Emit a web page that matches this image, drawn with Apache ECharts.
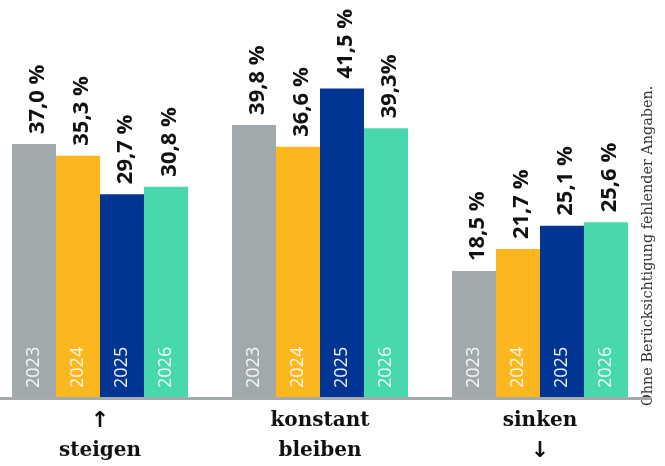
<!DOCTYPE html>
<html>
<head>
<meta charset="utf-8">
<script src="https://cdn.jsdelivr.net/npm/echarts@6/dist/echarts.min.js"></script>
<style>
  html, body { margin: 0; padding: 0; background: #ffffff; }
  #chart { width: 665px; height: 466px; }
</style>
</head>
<body>
<div id="chart"></div>
<script>
// Categories (x axis)
var categories = ['↑\nsteigen', 'konstant\nbleiben', 'sinken\n↓'];
// Years (series)
var years = ['2023', '2024', '2025', '2026'];
// Bar heights as drawn in the picture (per year, per category)
var values2023 = [37.0, 39.8, 18.5];
var values2024 = [35.3, 36.6, 21.7];
var values2025 = [29.7, 45.1, 25.1];
var values2026 = [30.8, 39.3, 25.6];
// Value labels as printed above the bars
var labels2023 = ['37,0 %', '39,8 %', '18,5 %'];
var labels2024 = ['35,3 %', '36,6 %', '21,7 %'];
var labels2025 = ['29,7 %', '41,5 %', '25,1 %'];
var labels2026 = ['30,8 %', '39,3%', '25,6 %'];
var note = 'Ohne Berücksichtigung fehlender Angaben.';

var colors = ['#a2a9ad', '#fdb71e', '#003594', '#48d8ae'];
var allValues = [values2023, values2024, values2025, values2026];
var allLabels = [labels2023, labels2024, labels2025, labels2026];

var chart = echarts.init(document.getElementById('chart'), null, { renderer: 'canvas' });

var series = [];
years.forEach(function (yr, i) {
  // visible bars with year inside
  series.push({
    type: 'bar',
    name: yr,
    xAxisIndex: 0,
    data: allValues[i],
    barWidth: 44,
    barGap: '0%',
    itemStyle: { color: colors[i] },
    label: {
      show: true,
      position: 'insideBottom',
      distance: 10,
      rotate: 90,
      align: 'left',
      verticalAlign: 'middle',
      formatter: function () { return yr; },
      color: 'rgba(255,255,255,0.92)',
      fontFamily: 'Open Sans',
      fontSize: 18,
      fontWeight: 'normal'
    },
    silent: true
  });
});
years.forEach(function (yr, i) {
  // transparent overlay bars carrying the value labels
  series.push({
    type: 'bar',
    name: yr + '-label',
    xAxisIndex: 1,
    data: allValues[i],
    barWidth: 44,
    barGap: '0%',
    itemStyle: { color: 'rgba(0,0,0,0)' },
    label: {
      show: true,
      position: 'top',
      distance: 10,
      rotate: 90,
      align: 'left',
      verticalAlign: 'middle',
      offset: [0, 4],
      formatter: function (p) { return allLabels[i][p.dataIndex]; },
      color: '#111111',
      fontFamily: 'Open Sans',
      fontSize: 22,
      fontWeight: 'bold'
    },
    silent: true
  });
});

chart.setOption({
  animation: false,
  backgroundColor: '#ffffff',
  grid: { left: -10, width: 660, top: 0, bottom: 68, containLabel: false, outerBoundsMode: 'none' },
  xAxis: [{
    type: 'category',
    data: categories,
    z: 3,
    axisLine: { show: true, lineStyle: { color: '#a5aaad', width: 3 } },
    axisTick: { show: false },
    axisLabel: {
      margin: 8,
      color: '#111111',
      fontFamily: 'DejaVu Serif',
      fontWeight: 'bold',
      fontSize: 20,
      lineHeight: 30,
      verticalAlign: 'top',
      formatter: function (v) {
        return v.split('\n').map(function (line) {
          if (line === '↑' || line === '↓') { return '{ar|' + line + '}'; }
          return '{t|' + line + '}';
        }).join('\n');
      },
      rich: {
        t: { fontFamily: 'DejaVu Serif', fontWeight: 'bold', fontSize: 20, lineHeight: 30, color: '#111111' },
        ar: { fontFamily: 'DejaVu Sans', fontWeight: 'bold', fontSize: 22, lineHeight: 30, color: '#111111' }
      }
    }
  }, {
    type: 'category',
    data: categories,
    show: false
  }],
  yAxis: {
    type: 'value',
    min: 0,
    max: 58,
    show: false,
    splitLine: { show: false }
  },
  graphic: [{
    type: 'text',
    x: 648,
    y: 406,
    rotation: Math.PI / 2,
    silent: true,
    style: {
      text: note,
      fontFamily: 'DejaVu Serif',
      fontSize: 14.4,
      fill: '#333333',
      textAlign: 'left',
      textVerticalAlign: 'middle'
    }
  }],
  series: series
});
</script>
</body>
</html>
